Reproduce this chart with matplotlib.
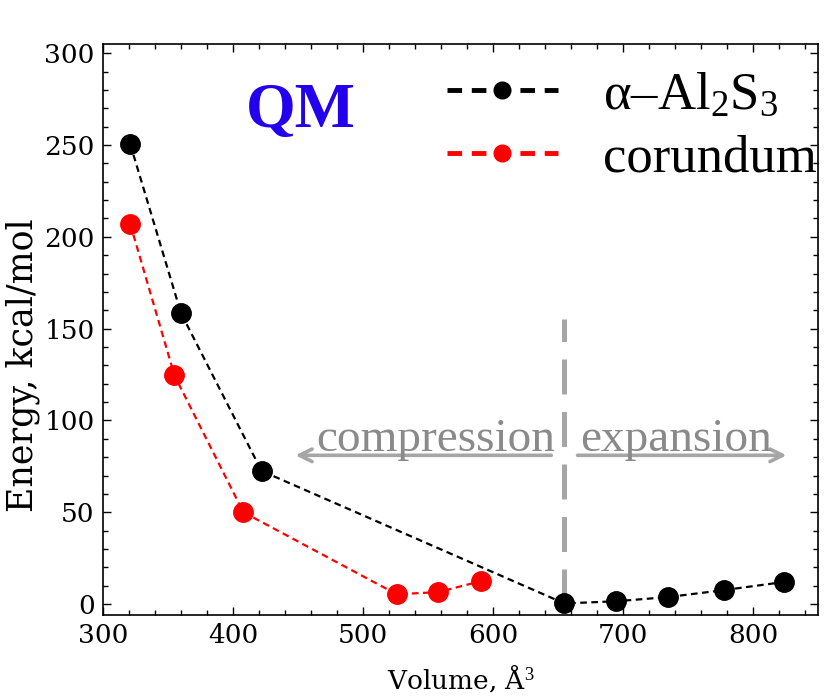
import matplotlib
matplotlib.use("Agg")
import matplotlib.pyplot as plt
from matplotlib.ticker import MultipleLocator

# ── data ──────────────────────────────────────────────────────────────────────
al2s3_volume = [321, 360, 422, 655, 695, 735, 778, 824]
al2s3_energy = [250.5, 158.5, 72.5, 0.3, 1.5, 3.8, 7.6, 12.0]

corundum_volume = [321, 355, 408, 526, 558, 591]
corundum_energy = [207.0, 124.5, 50.0, 5.3, 6.5, 12.5]

# compression / expansion divider and arrows
split_volume = 655
split_top = 155
arrow_energy = 81
compress_end = 446
expand_end = 828

plt.rcParams["mathtext.fontset"] = "custom"
plt.rcParams["mathtext.rm"] = "Liberation Serif"
plt.rcParams["mathtext.it"] = "Liberation Serif:italic"

SERIF = "DejaVu Serif"
TIMES = "Liberation Serif"

fig = plt.figure(figsize=(8.27, 7.0), dpi=100)
ax = fig.add_axes([0.1245, 0.1214, 0.8645, 0.8156])

ax.vlines(split_volume, 0, split_top, color="#a6a6a6", lw=3.6,
          linestyles=(0, (7, 3.5)), zorder=1)

ax.plot(al2s3_volume, al2s3_energy, color="black", lw=1.6, ls=(0, (3, 2)),
        marker="o", ms=14, label=r"α–Al$_2$S$_3$", zorder=3)
ax.plot(corundum_volume, corundum_energy, color="#ff0000", lw=1.6, ls=(0, (3, 2)),
        marker="o", ms=14, label="corundum", zorder=3)

arrow_kw = dict(arrowstyle="->,head_length=0.9,head_width=0.45", color="#a6a6a6", lw=2.6)
ax.annotate("", xy=(compress_end, arrow_energy), xytext=(split_volume - 8, arrow_energy),
            arrowprops=arrow_kw)
ax.annotate("", xy=(expand_end, arrow_energy), xytext=(split_volume + 8, arrow_energy),
            arrowprops=arrow_kw)
ax.text(556, arrow_energy + 2.5, "compression", family=TIMES, fontsize=34,
        color="#8a8a8a", ha="center", va="baseline")
ax.text(741, arrow_energy + 2.5, "expansion", family=TIMES, fontsize=34,
        color="#8a8a8a", ha="center", va="baseline")

ax.text(452, 268, "QM", family=TIMES, fontsize=46, fontweight="bold",
        color="#2200ee", ha="center", va="center")

leg = ax.legend(loc="upper left", bbox_to_anchor=(0.481, 0.952), frameon=False,
                prop={"family": TIMES, "size": 38}, handlelength=2.1,
                handletextpad=0.85, borderpad=0, borderaxespad=0, labelspacing=0.28)
for line in leg.get_lines():
    line.set_linewidth(3.5)
    line.set_markersize(12)

ax.set_xlim(300, 850)
ax.set_ylim(-6, 305)
ax.xaxis.set_major_locator(MultipleLocator(100))
ax.xaxis.set_minor_locator(MultipleLocator(20))
ax.yaxis.set_major_locator(MultipleLocator(50))
ax.yaxis.set_minor_locator(MultipleLocator(10))
ax.tick_params(which="both", direction="in", top=True, right=True, width=1.0)
ax.tick_params(which="major", length=6, pad=6, labelsize=19)
ax.tick_params(which="minor", length=3.5)
for lab in ax.get_xticklabels() + ax.get_yticklabels():
    lab.set_family(SERIF)
for sp in ax.spines.values():
    sp.set_linewidth(1.2)

ax.set_xlabel("Volume, Å$^3$", family=SERIF, fontsize=19, labelpad=10)
ax.set_ylabel("Energy, kcal/mol", family=SERIF, fontsize=25)
ax.yaxis.set_label_coords(-0.088, 0.438)

fig.savefig("out.png", dpi=100)
